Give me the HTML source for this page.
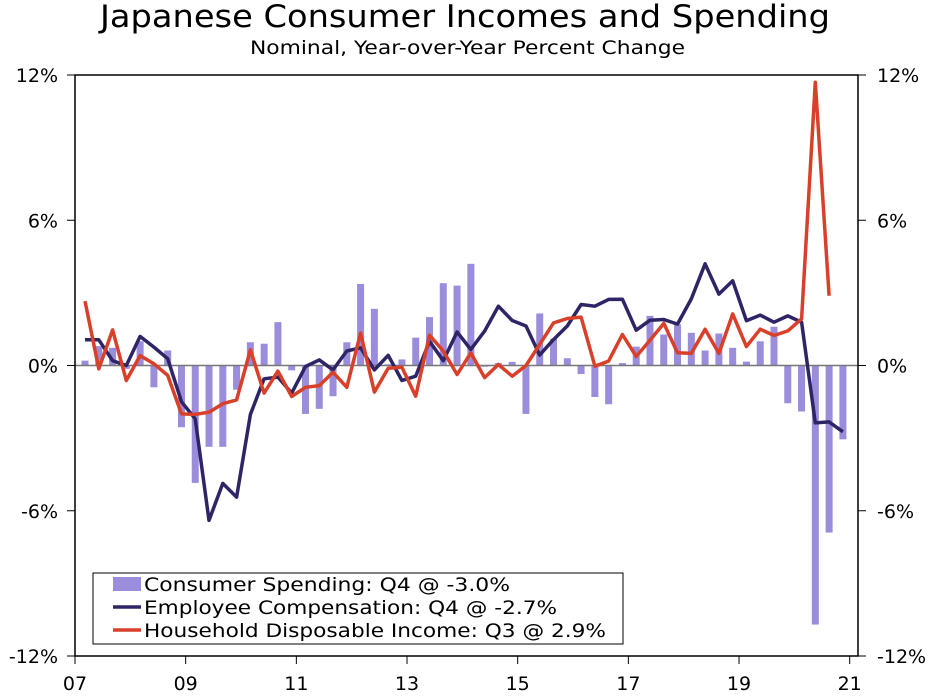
<!DOCTYPE html>
<html><head><meta charset="utf-8"><style>
html,body{margin:0;padding:0;background:#fff;}
svg text{font-family:"DejaVu Sans","Liberation Sans",sans-serif;fill:#000;}
</style></head><body>
<svg id="chart" width="937" height="692" xmlns="http://www.w3.org/2000/svg">
<text x="100" y="27" font-size="31" textLength="730" lengthAdjust="spacingAndGlyphs">Japanese Consumer Incomes and Spending</text>
<text x="250" y="54" font-size="19" textLength="435" lengthAdjust="spacingAndGlyphs">Nominal, Year-over-Year Percent Change</text>
<g id="bars"></g>
<line id="zero" x1="75" x2="858" stroke="#777" stroke-width="1.5"/>
<path id="navy" fill="none" stroke="#2e2566" stroke-width="3.5" stroke-linejoin="round"/>
<path id="red" fill="none" stroke="#d9402a" stroke-width="3.5" stroke-linejoin="round"/>
<rect x="75" y="75" width="783" height="581" fill="none" stroke="#000" stroke-width="1.5"/>
<g id="axes"></g>
<g>
<rect x="93" y="573" width="530" height="71" fill="#fff" stroke="#000" stroke-width="1"/>
<rect x="113" y="577" width="28" height="14" fill="#9b8ddc"/>
<text x="144" y="591" font-size="19" textLength="366" lengthAdjust="spacingAndGlyphs">Consumer Spending: Q4 @ -3.0%</text>
<line x1="113" x2="141" y1="607" y2="607" stroke="#2e2566" stroke-width="3.5"/>
<text x="144" y="614" font-size="19" textLength="413" lengthAdjust="spacingAndGlyphs">Employee Compensation: Q4 @ -2.7%</text>
<line x1="113" x2="141" y1="630" y2="630" stroke="#d9402a" stroke-width="3.5"/>
<text x="144" y="637" font-size="19" textLength="462" lengthAdjust="spacingAndGlyphs">Household Disposable Income: Q3 @ 2.9%</text>
</g>
</svg>
<script>
const spending=[0.2,0.8,0.73,-0.14,1.0,-0.9,0.62,-2.55,-4.85,-3.36,-3.36,-1.0,0.96,0.9,1.79,-0.2,-2.0,-1.79,-1.27,0.96,3.37,2.34,0.05,0.25,1.15,2.0,3.4,3.3,4.2,-0.05,0.1,0.15,-2.0,2.15,1.1,0.3,-0.35,-1.3,-1.6,0.1,0.78,2.05,1.28,1.7,1.35,0.62,1.32,0.73,0.16,1.0,1.6,-1.56,-1.9,-10.7,-6.9,-3.05];
const compensation=[1.06,1.06,0.2,0,1.2,0.76,0.28,-1.5,-2.2,-6.4,-4.87,-5.44,-2.02,-0.55,-0.48,-1.14,-0.04,0.23,-0.18,0.6,0.73,-0.18,0.42,-0.62,-0.44,1.0,0.2,1.39,0.66,1.42,2.45,1.86,1.63,0.43,1.07,1.63,2.52,2.45,2.73,2.74,1.46,1.87,1.9,1.71,2.75,4.2,2.95,3.5,1.85,2.08,1.79,2.05,1.79,-2.37,-2.33,-2.74];
const income=[2.66,-0.14,1.47,-0.62,0.41,0.07,-0.41,-2.0,-2.02,-1.93,-1.58,-1.42,0.65,-1.14,-0.23,-1.28,-0.9,-0.83,-0.28,-0.9,1.34,-1.1,-0.11,-0.07,-1.27,1.25,0.6,-0.37,0.52,-0.5,0.04,-0.44,0,0.87,1.76,1.94,2.0,-0.03,0.18,1.28,0.37,1.04,1.74,0.53,0.5,1.5,0.5,2.13,0.78,1.5,1.24,1.43,1.93,11.7,2.88];
const yTicks=[12,6,0,-6,-12];
const xTickLabels=["07","09","11","13","15","17","19","21"];
const NS="http://www.w3.org/2000/svg";
const X0=75,X1=858,Y0=75,Y1=656;
function y(p){return Y0+(12-p)*(Y1-Y0)/24;}
function xq(i){return 85+i*13.78;}
function xy(yr){return X0+(yr-2007)*(X1-X0)/14.15;}
document.getElementById('zero').setAttribute('y1',y(0));
document.getElementById('zero').setAttribute('y2',y(0));
const bars=document.getElementById('bars');
spending.forEach((v,i)=>{const r=document.createElementNS(NS,'rect');


r.setAttribute('x',xq(i)-3.5);r.setAttribute('width',7);
r.setAttribute('y',Math.min(y(v),y(0)));r.setAttribute('height',Math.abs(y(v)-y(0)));
r.setAttribute('fill','#9b8ddc');bars.appendChild(r);});
function path(arr){return arr.map((v,i)=>(i?'L':'M')+xq(i).toFixed(1)+','+y(v).toFixed(1)).join('');}
document.getElementById('navy').setAttribute('d',path(compensation));
document.getElementById('red').setAttribute('d',path(income));
const ax=document.getElementById('axes');
function add(tag,attrs,txt){const e=document.createElementNS(NS,tag);for(const k in attrs)e.setAttribute(k,attrs[k]);if(txt!==undefined)e.textContent=txt;ax.appendChild(e);return e;}
yTicks.forEach(t=>{const yy=y(t);
const a=add('line',{x1:X0-8,x2:X0,y1:yy,y2:yy,stroke:'#000'});

const b=add('line',{x1:X1,x2:X1+8,y1:yy,y2:yy,stroke:'#000'});

const l=add('text',{x:58,y:yy+7,'font-size':19,'text-anchor':'end'},t+'%');

const r=add('text',{x:877,y:yy+7,'font-size':19},t+'%');
});
xTickLabels.forEach((s,i)=>{const xx=xy(2007+2*i);
const t=add('line',{x1:xx,x2:xx,y1:Y1,y2:Y1+8,stroke:'#000'});

const l=add('text',{x:xx,y:690,'font-size':19,'text-anchor':'middle'},s);
});
</script>
</body></html>
